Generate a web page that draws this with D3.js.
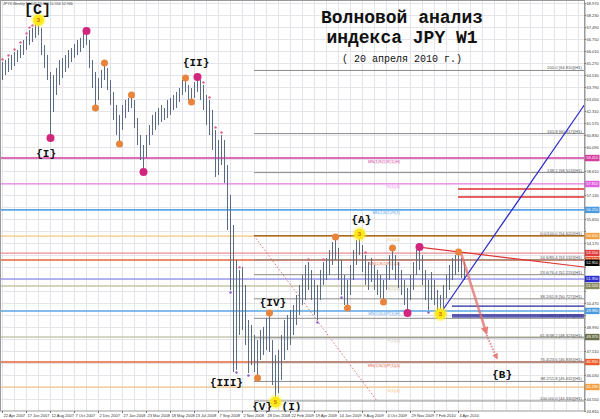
<!DOCTYPE html>
<html><head><meta charset="utf-8">
<script src="https://cdn.jsdelivr.net/npm/d3@7"></script>
<style>
html,body{margin:0;padding:0;background:#fff;}
svg{display:block;}
</style></head>
<body>
<svg id="chart" width="600" height="419"></svg>
<script>
// ---- weekly bars (JPY index, W1) ----
const highs = [
65.33,65.46,65.58,65.76,65.95,66.07,66.38,66.69,66.94,67.30,
67.43,67.80,67.92,67.43,66.38,65.76,64.71,64.53,64.96,65.46,
65.58,65.76,66.07,66.20,66.44,66.69,66.81,67.12,67.24,66.69,
65.46,64.71,64.35,64.84,65.27,64.96,64.22,63.48,62.68,62.06,
62.68,62.99,63.11,63.30,62.99,61.88,60.83,60.21,60.83,61.45,
62.06,62.25,62.50,62.68,62.50,62.99,63.11,63.30,63.48,63.73,
64.22,64.35,63.91,63.73,64.10,64.41,64.22,63.91,63.30,62.99,
62.37,61.14,60.52,60.83,60.52,58.98,57.13,55.28,53.12,52.51,
52.69,51.58,49.42,49.11,48.50,48.19,48.81,48.99,49.55,49.85,
48.19,47.26,47.57,48.50,49.42,49.73,50.04,50.35,50.96,51.58,
52.20,52.82,53.00,52.51,51.89,51.58,52.51,53.00,53.25,53.74,
54.23,54.54,53.86,53.12,52.20,51.89,52.82,53.74,54.35,54.72,
54.05,53.43,53.00,53.25,52.82,52.51,52.20,51.89,52.82,53.43,
53.86,53.43,53.00,52.51,51.89,51.40,52.20,53.00,53.74,53.92,
53.43,52.51,51.89,52.38,51.89,51.27,50.96,51.58,52.20,52.82,
53.25,53.43,53.62,53.25,53.00];
const lows = [
64.22,64.53,64.71,64.84,65.08,65.33,65.58,65.76,66.07,66.38,
66.57,66.81,67.00,65.76,64.96,64.22,60.65,62.25,63.30,63.91,
64.35,64.71,64.96,65.33,65.58,65.76,65.95,66.20,66.38,64.96,
63.73,62.50,62.99,63.73,64.22,63.61,62.68,61.76,60.83,60.28,
61.14,61.88,62.25,62.50,61.26,60.21,59.29,58.55,59.41,60.21,
60.83,61.14,61.45,61.63,61.76,61.88,62.06,62.37,62.50,62.86,
63.30,63.48,62.99,62.86,63.11,63.48,62.99,62.37,61.45,60.83,
59.90,58.24,58.36,58.98,57.87,54.97,51.27,46.21,46.34,48.50,
48.81,47.88,46.15,46.65,46.21,45.85,46.96,47.26,47.57,47.45,
45.41,44.37,44.92,45.72,46.96,47.57,47.88,48.50,49.11,49.73,
50.35,50.66,51.27,50.66,49.73,49.42,50.66,51.58,51.89,52.20,
52.82,53.12,51.89,50.96,50.35,50.16,50.96,51.89,52.82,53.43,
52.38,51.58,51.27,51.76,51.27,50.96,50.78,50.53,51.27,51.89,
52.51,51.89,51.40,50.96,50.35,49.85,50.66,51.27,52.20,52.51,
51.58,50.66,50.04,50.66,50.35,49.91,49.79,50.16,50.78,51.27,
51.89,52.20,52.38,52.01,51.89];
const lastClose = 52.95;

const dateLabels = ["22 Apr 2007","17 Jun 2007","12 Aug 2007","7 Oct 2007","2 Dec 2007",
  "27 Jan 2008","23 Mar 2008","18 May 2008","13 Jul 2008","7 Sep 2008","2 Nov 2008",
  "28 Dec 2008","22 Feb 2009","19 Apr 2009","14 Jun 2009","9 Aug 2009","4 Oct 2009",
  "29 Nov 2009","7 Feb 2010","4 Apr 2010"];
const dateTickBars = d3.range(0, 153, 8);
const priceTicks = d3.range(0, 35).map(k => +(68.97 - k * 0.74).toFixed(3));

// pivot levels drawn across the whole chart
const levelPrices = [59.41, 57.81, 56.21, 54.60, 53.55, 53.12, 51.95, 51.52, 49.98, 48.37, 46.83, 45.29];
const levelNames  = ["MN(1)S(1)R(1)(H)","R(1)(4)","MN(1)S(1)/R(1)","R(1)(4)","","MN(1)S(1)R(1)(4)",
                     "","S(1)(4)","MN(1)S(4)P(1)(H)","P(1)(4)","MN(1)S(1)/P(1)(4)","S(1)(4)"];

// Fibonacci grid
const fibHigh = 54.62, fibLow = 44.43, fibStartBar = 84, fibEndBar = 125;
const fibRatios = [-1, -0.618, -0.382, 0, 0.146, 0.236, 0.382, 0.5, 0.618, 0.764, 0.882, 1];

// short horizontal targets
const redTargets = [57.50, 57.01], redTargetFrom = 152;
const navyTargets = [50.28, 49.73, 49.61], navyTargetFrom = 150;

// trend lines [bar, price] pairs
const blueTrend = [[146, 49.79], [160, 53.54]];
const redTrend  = [[139, 53.92], [160, 53.45]];
const projSolid  = [[153, 53.55], [161.5, 48.6]];
const projDotted = [[161.5, 48.5], [165, 47.05]];

// wave pivots
const yellowPivots  = [[12, "h", "3"], [91, "l", "5"], [119, "h", "3"], [146, "l", "3"]];
const magentaPivots = [[16, "l"], [28, "h"], [47, "l"], [65, "h"], [135, "l"], [139, "h"]];
const orangePivots  = [[31, "l"], [34, "h"], [39, "l"], [43, "h"], [61, "h"], [63, "l"], [85, "l"],
                       [89, "h"], [111, "h"], [115, "l"], [127, "l"], [130, "h"], [152, "h"]];
const upFractals   = [0, 2, 4, 6, 8, 9, 10, 67, 69, 71, 73, 79, 102, 107, 121];
const downFractals = [76, 78, 82, 105, 113, 142];

// wave labels: [text, bar, price]
const waveLabels = [["[C]", 11.8, 68.30], ["{I}", 14.7, 59.47], ["{II}", 64.7, 65.08],
  ["{III}", 74.8, 45.35], ["{IV}", 90.3, 50.28], ["{V}", 86.7, 43.85], ["(I)", 96.5, 43.85],
  ["{A}", 119.8, 55.40], ["{B}", 166.7, 45.85]];

// ---- drawing ----
const svg = d3.select("#chart");
const plotL = 0, plotR = 584, plotT = 1, plotB = 411;
const x = d3.scaleLinear().domain([0, 194]).range([2, 584]);
const y = d3.scaleLinear().domain([43.81, 68.97]).range([411, 3]);
const px = v => Math.round(v) + 0.5;

svg.append("rect").attr("width", 600).attr("height", 419).attr("fill", "#fff");
svg.append("defs").append("clipPath").attr("id", "plot")
  .append("rect").attr("x", plotL).attr("y", plotT).attr("width", plotR - plotL).attr("height", plotB - plotT);

const g = svg.append("g").attr("clip-path", "url(#plot)");

// grid
g.append("g").selectAll("line").data(d3.range(0, 195, 4)).join("line")
  .attr("x1", d => px(x(d))).attr("x2", d => px(x(d))).attr("y1", plotT).attr("y2", plotB)
  .attr("stroke", "#e4e4ea").attr("stroke-width", 1);
g.append("g").selectAll("line").data(priceTicks).join("line")
  .attr("x1", plotL).attr("x2", plotR).attr("y1", d => px(y(d))).attr("y2", d => px(y(d)))
  .attr("stroke", "#e4e4ea").attr("stroke-width", 1);

// pivot levels
const levelStroke = ["#d63c9c","#ea82ea","#5aa6e6","#f2c874","#e89090","#e8643a",
                     "#9c9cf0","#c6c6a6","#5aa6e6","#c8c8b0","#e8643a","#f5be6e"];
const levelWidth = [1.6,1.2,1.6,1.2,1.2,1.6,1.6,1.6,1.6,1.6,1.6,1.2];
levelPrices.forEach((p, k) => {
  g.append("line").attr("x1", plotL).attr("x2", plotR).attr("y1", y(p)).attr("y2", y(p))
    .attr("stroke", levelStroke[k]).attr("stroke-width", levelWidth[k]);
  if (levelNames[k]) g.append("text").attr("x", 400).attr("y", y(p) + 4.5)
    .attr("text-anchor", "end").attr("font-family", "Arial, sans-serif").attr("font-size", 4)
    .attr("fill", levelStroke[k]).text(levelNames[k]);
});

// fibonacci grid
fibRatios.forEach(r => {
  const p = fibHigh - r * (fibHigh - fibLow);
  const isBase = r === 0;
  g.append("line").attr("x1", x(fibStartBar)).attr("x2", plotR).attr("y1", y(p)).attr("y2", y(p))
    .attr("stroke", isBase ? "#a8692c" : "#8c8c8c").attr("stroke-width", isBase ? 1.5 : 1);
  const name = r < 0 ? ((1 - r) * 100).toFixed(1) : (r * 100).toFixed(1) + "/" + ((1 - r) * 100).toFixed(1);
  g.append("text").attr("x", plotR - 2).attr("y", y(p) - 1).attr("text-anchor", "end")
    .attr("font-family", "Arial, sans-serif").attr("font-size", 4.2).attr("fill", "#555")
    .text(name + " [" + p.toFixed(3) + "](H1)");
});
g.append("line").attr("x1", x(fibStartBar)).attr("y1", y(fibHigh)).attr("x2", x(fibEndBar)).attr("y2", y(fibLow))
  .attr("stroke", "#e07070").attr("stroke-width", 1).attr("stroke-dasharray", "1.5,2");

// short targets
redTargets.forEach(p => g.append("line").attr("x1", x(redTargetFrom)).attr("x2", plotR)
  .attr("y1", y(p)).attr("y2", y(p)).attr("stroke", "#e02c2c").attr("stroke-width", 1.5));
navyTargets.forEach(p => g.append("line").attr("x1", x(navyTargetFrom)).attr("x2", plotR)
  .attr("y1", y(p)).attr("y2", y(p)).attr("stroke", "#26269a").attr("stroke-width", 1.3));

// bars
g.append("g").attr("shape-rendering", "crispEdges").selectAll("line").data(highs).join("line")
  .attr("x1", (d, i) => px(x(i))).attr("x2", (d, i) => px(x(i)))
  .attr("y1", d => y(d)).attr("y2", (d, i) => y(lows[i]))
  .attr("stroke", "#5a6b82").attr("stroke-width", 1);

// trend lines extended to the right edge
function ray(pts, color, w) {
  const [[b1, p1], [b2, p2]] = pts;
  const slope = (p2 - p1) / (b2 - b1);
  const bEnd = x.domain()[1] + 1;
  g.append("line").attr("x1", x(b1)).attr("y1", y(p1)).attr("x2", x(bEnd)).attr("y2", y(p1 + slope * (bEnd - b1)))
    .attr("stroke", color).attr("stroke-width", w);
}
ray(blueTrend, "#2a2ac8", 1.2);
ray(redTrend, "#e03434", 1.2);

// projection arrows
const defs = svg.select("defs");
defs.append("marker").attr("id", "head").attr("viewBox", "0 0 10 10").attr("refX", 8).attr("refY", 5)
  .attr("markerWidth", 3).attr("markerHeight", 3).attr("orient", "auto")
  .append("path").attr("d", "M0,0L10,5L0,10z").attr("fill", "#e67c7c");
const lineGen = d3.line().x(d => x(d[0])).y(d => y(d[1]));
g.append("path").attr("d", lineGen(projSolid)).attr("stroke", "rgba(226,110,110,0.75)")
  .attr("stroke-width", 2.6).attr("fill", "none").attr("marker-end", "url(#head)");
g.append("path").attr("d", lineGen(projDotted)).attr("stroke", "rgba(226,110,110,0.75)")
  .attr("stroke-width", 2).attr("stroke-dasharray", "1.5,1.5").attr("fill", "none").attr("marker-end", "url(#head)");

// fractal marks
g.append("g").selectAll("circle").data(upFractals).join("circle")
  .attr("cx", d => x(d) + 0.5).attr("cy", d => y(highs[d]) - 2.5).attr("r", 1.2).attr("fill", "#e0608a");
g.append("g").selectAll("circle").data(downFractals).join("circle")
  .attr("cx", d => x(d) + 0.5).attr("cy", d => y(lows[d]) + 2.5).attr("r", 1.2).attr("fill", "#8a5ad0");

// pivots
const pivY = (b, side) => side === "h" ? y(highs[b]) : y(lows[b]);
g.append("g").selectAll("circle").data(orangePivots).join("circle")
  .attr("cx", d => x(d[0]) + 0.5).attr("cy", d => pivY(d[0], d[1])).attr("r", 3.5).attr("fill", "#e8843c");
g.append("g").selectAll("circle").data(magentaPivots).join("circle")
  .attr("cx", d => x(d[0]) + 0.5).attr("cy", d => pivY(d[0], d[1])).attr("r", 4).attr("fill", "#d2267e");
const yp = g.append("g").selectAll("g").data(yellowPivots).join("g")
  .attr("transform", d => `translate(${x(d[0]) + 0.5},${pivY(d[0], d[1])})`);
yp.append("circle").attr("r", 7.5).attr("fill", "rgba(255,240,40,0.35)");
yp.append("circle").attr("r", 5.5).attr("fill", "#ffe81a");
yp.append("text").attr("text-anchor", "middle").attr("dy", 2.4).attr("font-family", "Arial, sans-serif")
  .attr("font-size", 6).attr("font-weight", "bold").attr("fill", "#d06a00").text(d => d[2]);

// wave labels
svg.append("g").selectAll("text").data(waveLabels).join("text")
  .attr("x", d => x(d[1])).attr("y", d => y(d[2])).attr("text-anchor", "middle")
  .attr("font-family", "'Liberation Mono', 'Courier New', monospace").attr("font-weight", "bold")
  .attr("font-size", d => d[0] === "[C]" ? 15 : 11).attr("fill", "#111").text(d => d[0]);

// title
const title = svg.append("g").attr("font-family", "'Liberation Mono', 'Courier New', monospace")
  .attr("fill", "#111").attr("text-anchor", "middle");
title.append("text").attr("x", 402).attr("y", 23).attr("font-size", 18).attr("font-weight", "bold").text("Волновой анализ");
title.append("text").attr("x", 402).attr("y", 43).attr("font-size", 18).attr("font-weight", "bold").text("индекса JPY W1");
title.append("text").attr("x", 402).attr("y", 62).attr("font-size", 10).text("( 20 апреля 2010 г.)");

svg.append("text").attr("x", 3).attr("y", 5).attr("font-family", "Arial, sans-serif").attr("font-size", 3.6)
  .attr("fill", "#444").text("JPYX,Weekly  53.643 53.956 51.556 52.946");

// frame
svg.append("rect").attr("x", plotL + 0.5).attr("y", plotT - 0.5).attr("width", plotR - plotL).attr("height", plotB - plotT + 0.5)
  .attr("fill", "none").attr("stroke", "#9a9a9a").attr("stroke-width", 1);

// price tags on the axis (level colours + current price)
const tagFill = ["#d63c9c","#e060e0","#4a9ae0","#f0a040","#e03a3a","#f05a28",
                 "#2b2bd0","#8a8a60","#4a9ae0","#6a7048","#f05a28","#f0a040"];
const tags = levelPrices.map((p, k) => [p, tagFill[k]]).concat([[lastClose, "#000"]]);

// price axis; labels hidden where a tag covers them
const yAxis = svg.append("g").attr("transform", `translate(${plotR + 0.5},0)`)
  .call(d3.axisRight(y).tickValues(priceTicks).tickFormat(d3.format(".3f")).tickSize(1.5).tickSizeOuter(0).tickPadding(0.5));
yAxis.select(".domain").attr("stroke", "#9a9a9a");
yAxis.selectAll("text").attr("font-family", "Arial, sans-serif").attr("font-size", 4).attr("fill", "#333")
  .attr("display", d => tags.some(t => Math.abs(y(t[0]) - y(d)) < 6) ? "none" : null);
yAxis.selectAll(".tick line").attr("stroke", "#777");

// time axis
const xAxis = svg.append("g").attr("transform", `translate(0,${plotB})`)
  .call(d3.axisBottom(x).tickValues(dateTickBars).tickFormat((d, i) => dateLabels[i]).tickSize(2).tickSizeOuter(0).tickPadding(1));
xAxis.select(".domain").remove();
xAxis.selectAll("text").attr("text-anchor", "start").attr("dx", 1)
  .attr("font-family", "Arial, sans-serif").attr("font-size", 4).attr("fill", "#333");
xAxis.selectAll(".tick line").attr("stroke", "#777");

const tg = svg.append("g").selectAll("g").data(tags).join("g")
  .attr("transform", d => `translate(${plotR + 1},${y(d[0])})`);
tg.append("rect").attr("x", 0).attr("y", -3.2).attr("width", 14.5).attr("height", 6.4).attr("fill", d => d[1]);
tg.append("text").attr("x", 7.25).attr("y", 1.4).attr("text-anchor", "middle")
  .attr("font-family", "Arial, sans-serif").attr("font-size", 3.9).attr("fill", "#fff").text(d => d[0].toFixed(3));
</script>
</body></html>
